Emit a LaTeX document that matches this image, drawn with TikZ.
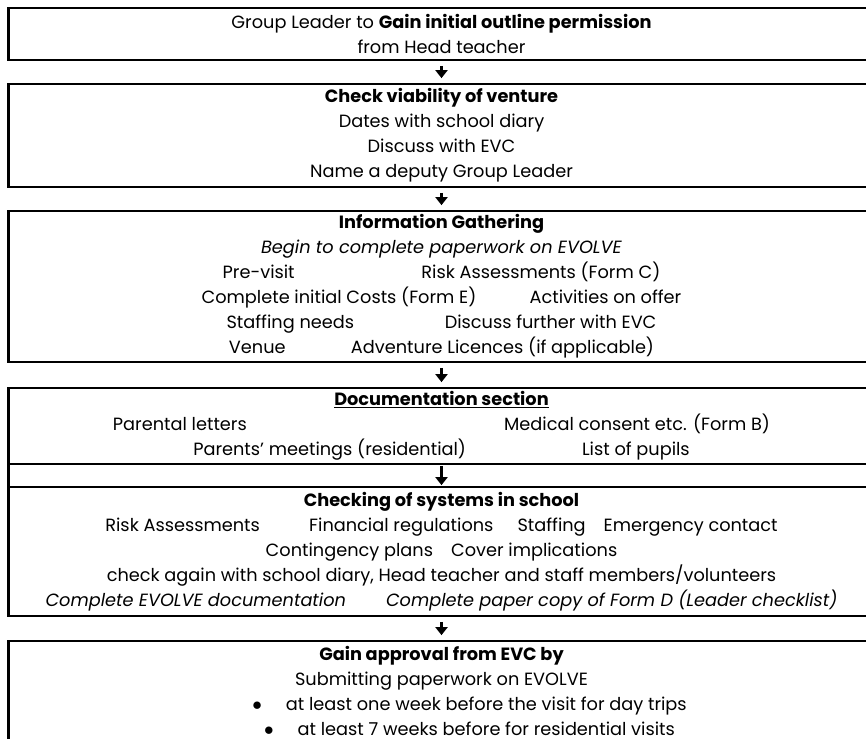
\documentclass[tikz,border=0pt]{standalone}
\usepackage{fontspec}
\setmainfont{Poppins}
\usetikzlibrary{arrows.meta}

\begin{document}
\begin{tikzpicture}[x=0.75pt,y=-0.75pt,
  box/.style={draw,line width=2pt,minimum width=650pt,align=center,inner sep=0pt,
    font=\fontsize{13.3}{18.75}\selectfont},
  flow/.style={line width=2.8pt,-{Triangle[width=9pt,length=6pt]}}]
\useasboundingbox (0,0) rectangle (866,738);
\draw (441.5,34) node[box,minimum height=39pt](leader) {Group Leader to \textbf{Gain initial outline permission}\\from Head teacher};
\draw (441.5,135.5) node[box,minimum height=77.25pt](viable) {\textbf{Check viability of venture}\\Dates with school diary\\Discuss with EVC\\Name a deputy Group Leader};
\draw (441.5,286.5) node[box,minimum height=113.25pt](gather) {\textbf{Information Gathering}\\\textit{Begin to complete paperwork on EVOLVE}\\Pre-visit\hspace{95pt}Risk Assessments (Form C)\\Complete initial Costs (Form E)\hspace{40pt}Activities on offer\\Staffing needs\hspace{68pt}Discuss further with EVC\\Venue\hspace{49pt}Adventure Licences (if applicable)};
\draw (441.5,426) node[box,minimum height=57pt](docs) {\underline{\textbf{Documentation section}}\\Parental letters\hspace{193pt}Medical consent etc. (Form B)\\Parents’ meetings (residential)\hspace{87pt}List of pupils};
\draw (441.5,475.5) node[box,minimum height=17.25pt](gap) {};
\draw (441.5,551.5) node[box,minimum height=96.75pt](systems) {\textbf{Checking of systems in school}\\Risk Assessments\hspace{37pt}Financial regulations\hspace{18pt}Staffing\hspace{13.5pt}Emergency contact\\Contingency plans\hspace{13.5pt}Cover implications\\check again with school diary, Head teacher and staff members/volunteers\\\textit{Complete EVOLVE documentation\hspace{30pt}Complete paper copy of Form D (Leader checklist)}};
\draw (441.5,690.5) node[box,minimum height=74.25pt](approve) {\textbf{Gain approval from EVC by}\\Submitting paperwork on EVOLVE\\\hspace*{42pt}$\bullet$\hspace{18pt}at least one week before the visit for day trips\\\hspace*{42pt}$\bullet$\hspace{18pt}at least 7 weeks before for residential visits};
\draw[flow] ([yshift=-3.4pt]leader.south) -- ([yshift=3.4pt]viable.north);
\draw[flow] ([yshift=-3.4pt]viable.south) -- ([yshift=3.4pt]gather.north);
\draw[flow] ([yshift=-3.4pt]gather.south) -- ([yshift=3.4pt]docs.north);
\draw[flow] ([yshift=-2.4pt]gap.north) -- ([yshift=2.4pt]gap.south);
\draw[flow] ([yshift=-3.4pt]systems.south) -- ([yshift=3.4pt]approve.north);
\end{tikzpicture}
\end{document}
